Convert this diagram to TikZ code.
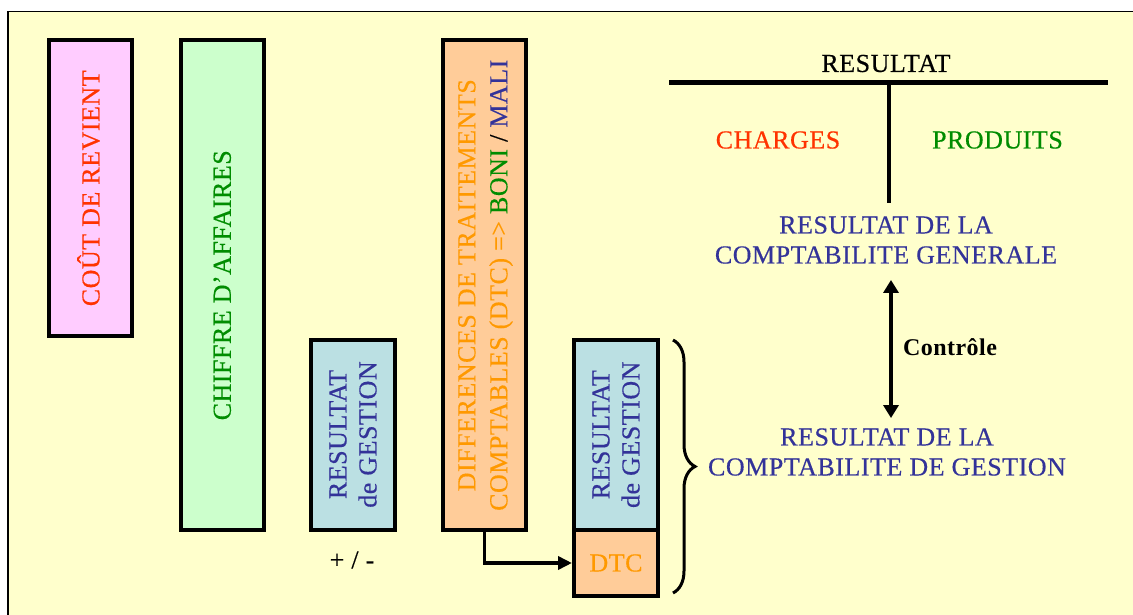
\documentclass[tikz,border=0pt]{standalone}
\usepackage{fontspec}
\setmainfont{Liberation Serif}[UprightFeatures={FakeBold=0.4}, LetterSpace=2]
\usetikzlibrary{arrows.meta,decorations.pathreplacing}
\definecolor{bgY}{HTML}{FFFFCC}
\definecolor{pinkF}{HTML}{FFCCFF}
\definecolor{greenF}{HTML}{CCFFCC}
\definecolor{blueF}{HTML}{BBE0E3}
\definecolor{orangeF}{HTML}{FFCC99}
\definecolor{redT}{HTML}{FF3300}
\definecolor{greenT}{HTML}{008C00}
\definecolor{orangeT}{HTML}{FF9900}
\definecolor{navyT}{HTML}{333399}
\begin{document}
\begin{tikzpicture}[x=1pt,y=-1pt,
  boxx/.style={draw=black, line width=4pt, rectangle, inner sep=0pt},
  lbl/.style={font=\fontsize{26}{30}\selectfont, inner sep=0pt, align=center},
  vlbl/.style={lbl, rotate=90},
  thick line/.style={line width=4.3pt},
  tipA/.style={-{Triangle[length=14pt,width=13pt]}}]
\useasboundingbox (0,0) rectangle (1133,615);
\fill[white] (0,0) rectangle (1133,615);
\draw[line width=1.5pt, fill=bgY] (7.75,11.75) rectangle (1145,630);

% boxes
\node[boxx, fill=pinkF, minimum width=83pt, minimum height=295.5pt] (b1) at (90.5,188.25) {};
\node[boxx, fill=greenF, minimum width=83.5pt, minimum height=489.5pt] (b2) at (222.25,285.25) {};
\node[boxx, fill=blueF, minimum width=84pt, minimum height=190pt] (b3) at (353,434.5) {};
\node[boxx, fill=orangeF, minimum width=83pt, minimum height=489.5pt] (b4) at (484.5,285.25) {};
\node[boxx, fill=blueF, minimum width=84pt, minimum height=190.5pt] (b5) at (616,434.75) {};
\node[boxx, fill=orangeF, minimum width=84pt, minimum height=66pt] (b6) at (616,563) {};

% box texts
\node[vlbl, text=redT] (t1) at ([xshift=-2pt]b1.center) {COÛT DE REVIENT};
\node[vlbl, text=greenT] (t2) at (b2.center) {CHIFFRE D'AFFAIRES};
\node[vlbl, text=navyT] (t3) at (b3.center) {RESULTAT\\de GESTION};
\node[vlbl, font=\fontsize{26}{32}\selectfont] (t4) at ([xshift=1pt]b4.center)
  {\textcolor{orangeT}{DIFFERENCES DE TRAITEMENTS}\\\textcolor{orangeT}{COMPTABLES (DTC) =>} \textcolor{greenT}{BONI} / \textcolor{navyT}{MALI}};
\node[vlbl, text=navyT] (t5) at (b5.center) {RESULTAT\\de GESTION};
\node[lbl, text=orangeT] (t6) at (b6.center) {DTC};
\node[lbl] (pm) at (352,560) {+ / -};

% arrow DTC
\draw[line width=3.5pt, tipA] (b4.south) |- (b6.west);

% brace
\coordinate (bt) at (673,340);
\coordinate (bb) at (673,593);
\draw[line width=3pt, decorate, decoration={brace, amplitude=22pt}] (bt) -- (bb);

% T account
\coordinate (tl) at (669,82.5);
\coordinate (tr) at (1108,82.5);
\coordinate (tm) at (889,82.5);
\coordinate (tb) at (889,203);
\draw[thick line] (tl) -- (tr);
\draw[thick line] (tm) -- (tb);
\node[lbl] (res) at (886,63.5) {RESULTAT};
\node[lbl, text=redT] (ch) at (778,140) {CHARGES};
\node[lbl, text=greenT] (pr) at (997.5,140) {PRODUITS};

\node[lbl, text=navyT] (g1) at (886,240) {RESULTAT DE LA\\COMPTABILITE GENERALE};
\node[lbl, text=navyT] (g2) at (887,452) {RESULTAT DE LA\\COMPTABILITE DE GESTION};

\draw[line width=3.5pt, {Triangle[length=13pt,width=15pt]}-{Triangle[length=13pt,width=15pt]},
  shorten <=16pt, shorten >=10pt] ([xshift=5pt]g1.south) -- ([xshift=4pt]g2.north);
\node[font=\fontsize{24}{28}\selectfont\bfseries, inner sep=0pt] (ctl) at (950,347) {Contrôle};
\end{tikzpicture}
\end{document}
